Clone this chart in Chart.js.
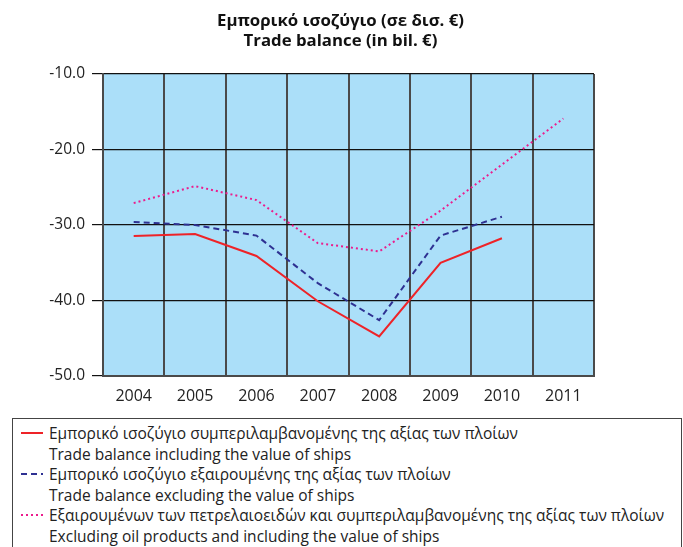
<!DOCTYPE html>
<html>
<head>
<meta charset="utf-8">
<script src="https://cdn.jsdelivr.net/npm/chart.js@4"></script>
<style>
  html, body { margin: 0; padding: 0; background: #fff; }
  #wrap { position: relative; width: 683px; height: 547px; overflow: hidden; }
  #c { position: absolute; left: 0; top: 0; }
  #title { position: absolute; left: 0; top: 10px; width: 681px; text-align: center;
           font-family: 'Open Sans', sans-serif; font-weight: bold; font-size: 16.8px;
           line-height: 19.5px; color: #111; }
  #legend { position: absolute; left: 12px; top: 418px; width: 670px; height: 150px;
            border: 1px solid #444; box-sizing: border-box;
            font-family: 'Open Sans', sans-serif; font-size: 15.5px; color: #222; }
  .row { position: absolute; left: 0; height: 20px; line-height: 20px; white-space: nowrap; }
  .row span.t { position: absolute; left: 36px; }
  .row canvas { position: absolute; left: 7px; top: 4px; }
</style>
</head>
<body>
<div id="wrap">
  <canvas id="c" width="683" height="412"></canvas>
  <div id="title"></div>
  <div id="legend"></div>
</div>
<script>
const categories = ['2004', '2005', '2006', '2007', '2008', '2009', '2010', '2011'];
const inclShips = [-31.45, -31.2, -34.1, -40.1, -44.75, -35.0, -31.75, null];
const exclShips = [-29.6, -30.0, -31.4, -37.7, -42.6, -31.4, -28.9, null];
const exclOilInclShips = [-27.1, -24.85, -26.7, -32.4, -33.5, -28.1, -22.0, -15.9];
const titleLines = ['Εμπορικό ισοζύγιο (σε δισ. €)', 'Trade balance (in bil. €)'];
const seriesLabels = [
  ['Εμπορικό ισοζύγιο συμπεριλαμβανομένης της αξίας των πλοίων', 'Trade balance including the value of ships'],
  ['Εμπορικό ισοζύγιο εξαιρουμένης της αξίας των πλοίων', 'Trade balance excluding the value of ships'],
  ['Εξαιρουμένων των πετρελαιοειδών και συμπεριλαμβανομένης της αξίας των πλοίων', 'Excluding oil products and including the value of ships']
];
const yMin = -50, yMax = -10, yStep = 10;

const colors = ['#ee2328', '#2e3192', '#ec1c8c'];
const dashes = [[], [6, 4], [2, 3]];
const datasets = [inclShips, exclShips, exclOilInclShips].map((d, i) => ({
  label: seriesLabels[i].join(' / '),
  data: d,
  borderColor: colors[i],
  backgroundColor: colors[i],
  borderWidth: 2,
  borderDash: dashes[i],
  pointRadius: 0,
  tension: 0,
  fill: false
}));

const bgPlugin = {
  id: 'bg',
  beforeDraw(chart) {
    const a = chart.chartArea, ctx = chart.ctx;
    ctx.save();
    ctx.fillStyle = '#abdff9';
    ctx.fillRect(a.left, a.top, a.right - a.left, a.bottom - a.top);
    ctx.restore();
  }
};

new Chart(document.getElementById('c'), {
  type: 'line',
  data: { labels: categories, datasets },
  plugins: [bgPlugin],
  options: {
    responsive: false,
    animation: false,
    layout: { padding: { left: 0, right: 89, top: 74, bottom: 0 } },
    plugins: {
      legend: { display: false },
      tooltip: { enabled: false },
      title: { display: false }
    },
    scales: {
      x: {
        offset: true,
        grid: { offset: true, color: '#4a4a4a', lineWidth: 2, drawTicks: false },
        border: { color: '#4a4a4a', width: 2 },
        ticks: { color: '#222', font: { family: 'Open Sans', size: 16 }, padding: 11, maxRotation: 0 },
        afterFit(s) { s.height = 36; }
      },
      y: {
        min: yMin, max: yMax,
        grid: { color: '#111', lineWidth: 1.2, tickLength: 11, drawTicks: true },
        border: { color: '#4a4a4a', width: 2 },
        ticks: { stepSize: yStep, color: '#222', font: { family: 'Open Sans', size: 15.5 }, padding: 7,
                 callback: v => Number(v).toFixed(1) },
        afterFit(s) { s.width = 103; }
      }
    }
  }
});

// Title (two lines, centered on the page as in the original)
const ttl = document.getElementById('title');
titleLines.forEach(l => { const d = document.createElement('div'); d.textContent = l; ttl.appendChild(d); });

// HTML legend with two-line labels
const leg = document.getElementById('legend');
seriesLabels.forEach((pair, i) => {
  pair.forEach((txt, j) => {
    const row = document.createElement('div');
    row.className = 'row';
    row.style.top = (4 + (i * 2 + j) * 20.6) + 'px';
    if (j === 0) {
      const cv = document.createElement('canvas');
      cv.width = 24; cv.height = 12;
      const g = cv.getContext('2d');
      g.strokeStyle = colors[i]; g.lineWidth = 2; g.setLineDash(dashes[i]);
      g.beginPath(); g.moveTo(1, 6); g.lineTo(23, 6); g.stroke();
      row.appendChild(cv);
    }
    const t = document.createElement('span');
    t.className = 't';
    t.textContent = txt;
    row.appendChild(t);
    leg.appendChild(row);
  });
});
</script>
</body>
</html>
